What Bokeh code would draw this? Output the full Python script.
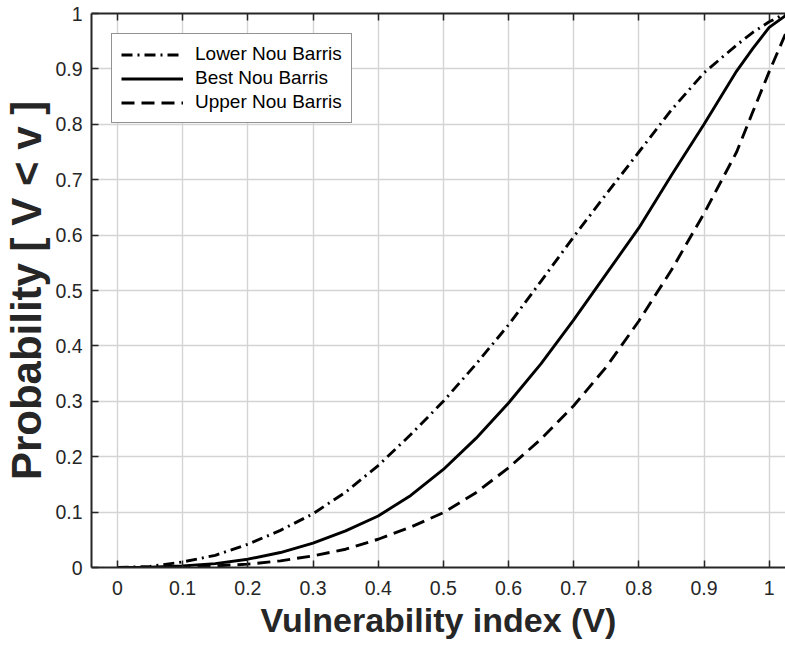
from bokeh.plotting import figure
from bokeh.models import Range1d, FixedTicker, LinearAxis, Legend, LegendItem
from bokeh.embed import file_html
from bokeh.resources import INLINE

# ---- data ----
v = [0.0, 0.05, 0.1, 0.15, 0.2, 0.25, 0.3, 0.35, 0.4, 0.45, 0.5, 0.55,
     0.6, 0.65, 0.7, 0.75, 0.8, 0.85, 0.9, 0.95, 0.975, 1.0, 1.025]
lower = [0.0, 0.002, 0.01, 0.022, 0.042, 0.067, 0.097, 0.136, 0.184, 0.240,
         0.300, 0.367, 0.438, 0.517, 0.597, 0.674, 0.750, 0.826, 0.893,
         0.943, 0.966, 0.985, 1.0]
best = [0.0, 0.0005, 0.003, 0.007, 0.015, 0.027, 0.044, 0.066, 0.093, 0.130,
        0.177, 0.233, 0.297, 0.368, 0.447, 0.530, 0.613, 0.708, 0.800,
        0.896, 0.937, 0.975, 0.996]
upper = [0.0, 0.0, 0.001, 0.003, 0.006, 0.012, 0.021, 0.033, 0.051, 0.073,
         0.099, 0.135, 0.180, 0.232, 0.292, 0.362, 0.445, 0.537, 0.639,
         0.750, 0.823, 0.895, 0.963]
series_names = ["Lower Nou Barris", "Best Nou Barris", "Upper Nou Barris"]

x_ticks = [0, 0.1, 0.2, 0.3, 0.4, 0.5, 0.6, 0.7, 0.8, 0.9, 1.0]
x_tick_labels = ["0", "0.1", "0.2", "0.3", "0.4", "0.5", "0.6", "0.7", "0.8", "0.9", "1"]
y_ticks = [0, 0.1, 0.2, 0.3, 0.4, 0.5, 0.6, 0.7, 0.8, 0.9, 1.0]
y_tick_labels = ["0", "0.1", "0.2", "0.3", "0.4", "0.5", "0.6", "0.7", "0.8", "0.9", "1"]

FONT = "Liberation Sans"
TXT = "#262626"

p = figure(width=785, height=645,
           x_range=Range1d(-0.0399, 1.025), y_range=Range1d(0, 1),
           output_backend="svg", toolbar_location=None,
           min_border_left=91, min_border_right=0,
           min_border_top=13, min_border_bottom=78)
p.outline_line_color = None
p.background_fill_color = "white"
p.border_fill_color = "white"

# grid
for g in (p.xgrid, p.ygrid):
    g.grid_line_color = "#d4d4d4"
    g.grid_line_width = 1.4
p.xgrid.ticker = FixedTicker(ticks=x_ticks)
p.ygrid.ticker = FixedTicker(ticks=y_ticks)

def style_axis(ax):
    ax.axis_line_color = TXT
    ax.axis_line_width = 2
    ax.major_tick_line_color = TXT
    ax.major_tick_line_width = 1.5
    ax.major_tick_in = 7
    ax.major_tick_out = 0
    ax.minor_tick_line_color = None
    ax.major_label_text_font = FONT
    ax.major_label_text_font_size = "19.5px"
    ax.major_label_text_color = TXT
    ax.axis_label_text_font = FONT
    ax.axis_label_text_font_style = "bold"
    ax.axis_label_text_color = TXT

xa = p.xaxis[0]
style_axis(xa)
xa.ticker = FixedTicker(ticks=x_ticks)
xa.major_label_overrides = {t: l for t, l in zip(x_ticks, x_tick_labels)}
xa.axis_label = "Vulnerability index (V)"
xa.axis_label_text_font_size = "34px"
xa.major_label_standoff = 13
xa.axis_label_standoff = 3

ya = p.yaxis[0]
style_axis(ya)
ya.ticker = FixedTicker(ticks=y_ticks)
ya.major_label_overrides = {t: l for t, l in zip(y_ticks, y_tick_labels)}
ya.axis_label = "Probability [ V < v ]"
ya.axis_label_text_font_size = "42px"
ya.major_label_standoff = 9
ya.axis_label_standoff = 2

# top box edge with inward ticks, no labels
top = LinearAxis(ticker=FixedTicker(ticks=x_ticks))
style_axis(top)
top.major_label_overrides = {t: "" for t in x_ticks}
top.major_label_standoff = 0
p.add_layout(top, "above")

LW = 2.9
r1 = p.line(v, lower, line_color="black", line_width=LW, line_dash="11 5 2 5")
r2 = p.line(v, best, line_color="black", line_width=LW)
r3 = p.line(v, upper, line_color="black", line_width=LW, line_dash="13 7")

legend = Legend(items=[LegendItem(label=series_names[0], renderers=[r1]),
                       LegendItem(label=series_names[1], renderers=[r2]),
                       LegendItem(label=series_names[2], renderers=[r3])],
                location="top_left")
legend.margin = 20
legend.padding = 9
legend.spacing = 2
legend.label_height = 21
legend.glyph_height = 21
legend.glyph_width = 62
legend.label_standoff = 12
legend.label_text_font = FONT
legend.label_text_font_size = "19px"
legend.label_text_color = "black"
legend.border_line_color = TXT
legend.border_line_width = 1.2
legend.background_fill_color = "white"
legend.background_fill_alpha = 1.0
p.add_layout(legend, "center")

open("out.html", "w").write(file_html(p, INLINE))
